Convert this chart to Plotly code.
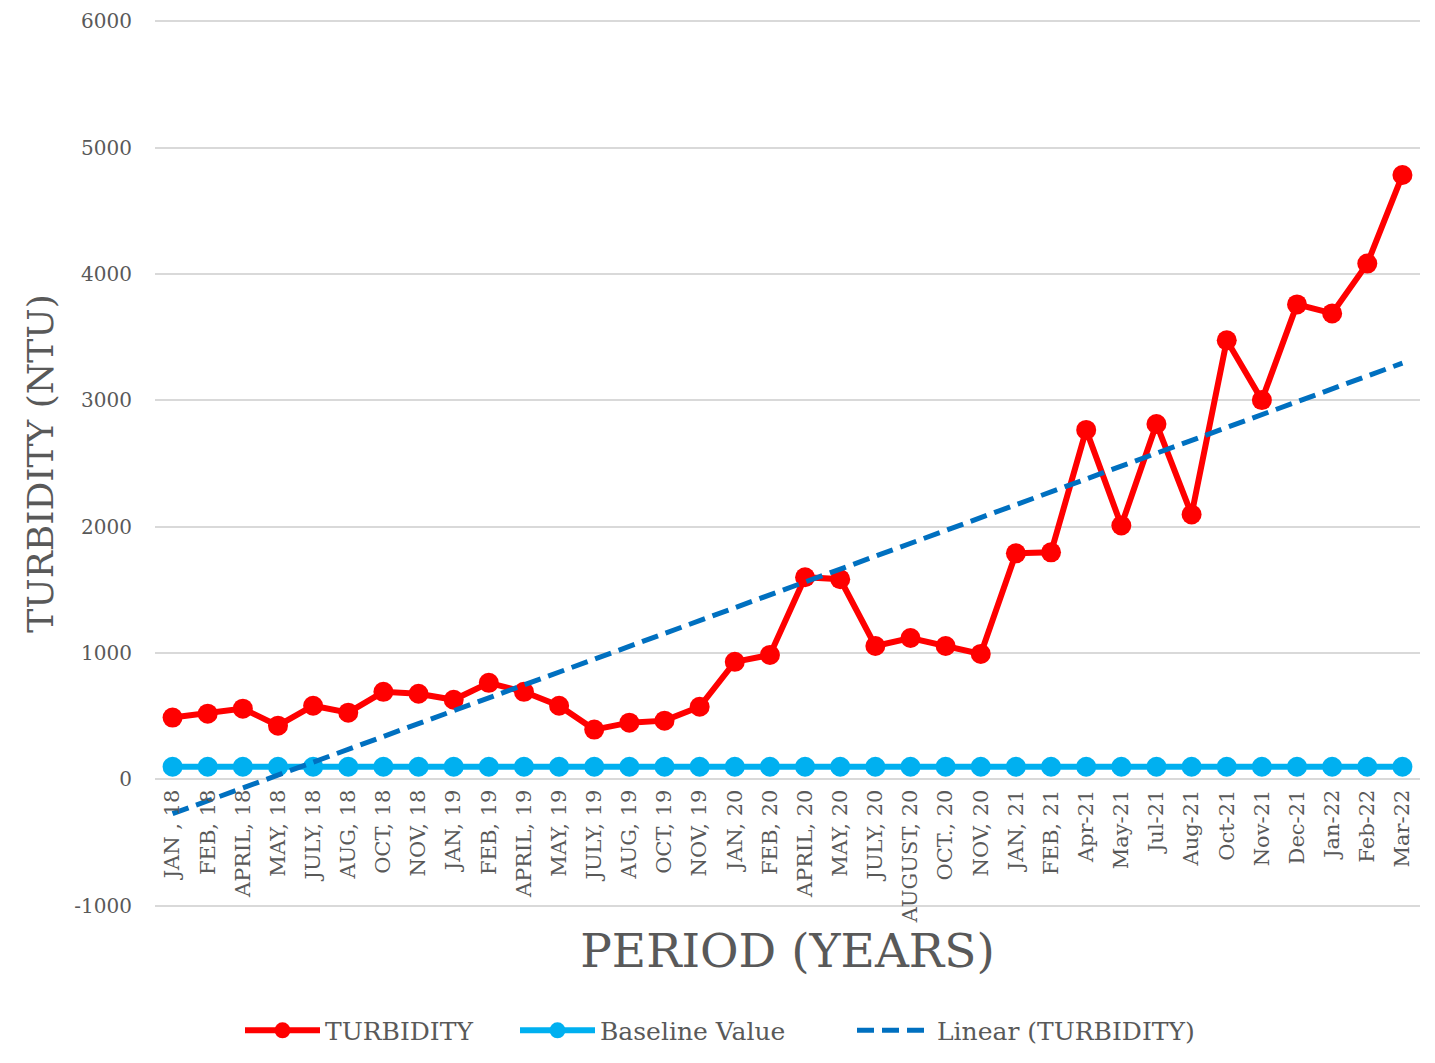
import numpy as np
import plotly.graph_objects as go

categories = ["JAN , 18", "FEB, 18", "APRIL, 18", "MAY, 18", "JULY, 18", "AUG, 18",
              "OCT, 18", "NOV, 18", "JAN, 19", "FEB, 19", "APRIL, 19", "MAY, 19",
              "JULY, 19", "AUG, 19", "OCT, 19", "NOV, 19", "JAN, 20", "FEB, 20",
              "APRIL, 20", "MAY, 20", "JULY, 20", "AUGUST, 20", "OCT., 20", "NOV, 20",
              "JAN, 21", "FEB, 21", "Apr-21", "May-21", "Jul-21", "Aug-21",
              "Oct-21", "Nov-21", "Dec-21", "Jan-22", "Feb-22", "Mar-22"]

turbidity = [489, 520, 560, 425, 583, 528, 693, 678, 630, 764, 693, 583,
             394, 449, 465, 575, 930, 985, 1600, 1584, 1056, 1119, 1056, 993,
             1789, 1797, 2766, 2009, 2813, 2096, 3475, 3002, 3759, 3688, 4082, 4783]

baseline = [100] * len(categories)

y_ticks = [-1000, 0, 1000, 2000, 3000, 4000, 5000, 6000]

# Linear trendline (least squares fit of TURBIDITY against category index)
idx = np.arange(1, len(turbidity) + 1)
slope, intercept = np.polyfit(idx, turbidity, 1)
trend = slope * idx + intercept

FONT = "DejaVu Serif"
GREY = "#595959"

fig = go.Figure()
fig.add_trace(go.Scatter(x=categories, y=turbidity, name="TURBIDITY", mode="lines+markers",
                         line=dict(color="#FF0000", width=6),
                         marker=dict(color="#FF0000", size=20), legend="legend"))
fig.add_trace(go.Scatter(x=categories, y=baseline, name="Baseline Value", mode="lines+markers",
                         line=dict(color="#00B0F0", width=6),
                         marker=dict(color="#00B0F0", size=20), legend="legend2"))
fig.add_trace(go.Scatter(x=categories, y=trend, name="Linear (TURBIDITY)", mode="lines",
                         line=dict(color="#0070C0", width=5, dash="17px,8px"), legend="legend3"))

# plot area spans page px 155..1420 horizontally (page has 8px body margin)
PL, PW = 155, 1265
PB, PH = 907.3, 888


def lx(px):
    return (px - PL) / PW


leg_common = dict(orientation="h", xanchor="left",
                  y=-(1054 - PB) / PH, yanchor="bottom",
                  font=dict(size=25, color=GREY, family=FONT), itemwidth=75,
                  bgcolor="rgba(0,0,0,0)")

fig.update_layout(
    width=1419, height=1047,
    paper_bgcolor="white", plot_bgcolor="white",
    margin=dict(l=147, r=7, t=12, b=148, autoexpand=False),
    font=dict(family=FONT, color=GREY),
    showlegend=True,
    legend=dict(x=lx(240), **leg_common),
    legend2=dict(x=lx(515), **leg_common),
    legend3=dict(x=lx(852), **leg_common),
    xaxis=dict(
        type="category", categoryorder="array", categoryarray=categories,
        anchor="free", position=1010/7020,
        tickangle=-90, tickfont=dict(size=21, color=GREY, family=FONT),
        showgrid=False, showline=False, ticks="", zeroline=False,
        ticklabelstandoff=5,
        automargin=False,
        range=[-0.5, len(categories) - 0.5],
        title=dict(text="PERIOD (YEARS)", font=dict(size=47, color=GREY, family=FONT),
                   standoff=8),
    ),
    yaxis=dict(
        range=[-1010, 6010], tickvals=y_ticks, ticktext=[str(v) for v in y_ticks],
        showgrid=True, gridcolor="#d9d9d9", gridwidth=1.5,
        zeroline=False, showline=False, ticks="", ticklabelstandoff=22,
        ticklabeloverflow="allow",
        tickfont=dict(size=20, color=GREY, family=FONT),
        automargin=False,
        title=dict(text="TURBIDITY (NTU)", font=dict(size=36, color=GREY, family=FONT),
                   standoff=9),
    ),
)

fig.write_html("out.html")
